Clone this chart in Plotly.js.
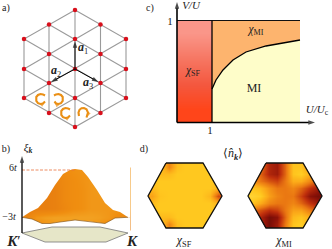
<!DOCTYPE html>
<html><head><meta charset="utf-8"><script src="https://cdn.plot.ly/plotly-3.0.0.min.js"></script>
<style>html,body{margin:0;padding:0;background:#fff}#p{width:332px;height:249px}</style></head><body><div id="p"></div>
<script>
// a) lattice
const siteX=[75,49,100.5,24,75,126,49,100.5,24,75,126,49,100.5,24,75,126,49,100.5,75];
const siteY=[10,24.5,24.5,39,39,39,54,54,69,69,69,83,83,98,98,98,113,113,127];
const bondX=[75,126,126,75,24,24,75,null,49,49,null,75,75,null,100.5,100.5,null,24,126,null,24,100.5,null,49,126,null,126,24,null,126,49,null,100.5,24];
const bondY=[10,39,98,127,98,39,10,null,24.5,113,null,10,127,null,24.5,113,null,39,98,null,69,113,null,24.5,69,null,39,98,null,69,113,null,24.5,69];
const swirlX=[[45,43,40.5,38,36.3,36.3,38,40.5,43,45],[54,56,58.5,61,62.7,62.7,61,58.5,56,54.5],[70,68,65.5,63,61.3,61.3,63,65.5,68,70],[79,78.5,79.5,81.5,84,86.5,88,87.5,86.5]];
const swirlY=[[95.5,94.4,94,95,97,101,103.2,104,103.5,101.5],[95.5,94.4,94,95,97,101,103.2,104,103.5,101.5],[109.5,108.4,108,109,111,115,117.2,118,117.5,115.5],[116,112.5,109.8,108.2,108,109.2,112.5,115.5,117.5]];
// c) phase diagram
const sfX=[185.75,203.25], sfY=[33,58.5,84,109.5];
const sfZ=[[0.05,0.05],[0.4,0.4],[0.7,0.7],[1,1]];
const orangeX=[212,300,300,283,266,246,233,223,216,212,212];
const orangeY=[21,21,40,43,46,52,60,70,80,89,21];
const boundaryX=[212,216,223,233,246,266,283,300];
const boundaryY=[89,80,70,60,52,46,43,40];
const creamX=[212,216,223,233,246,266,283,300,300,212];
const creamY=[89,80,70,60,52,46,43,40,122,122];
// b) dispersion
const bandX=[27,36,45,54,63,72,81,90,99,108,117,126];
const bandY=[172,181,190,199,208,217,226];
const bandZ=[
[.58,.58,.58,.58,.62,.66,.68,.68,.68,.68,.68,.68],
[.52,.52,.52,.54,.60,.64,.67,.70,.70,.70,.70,.70],
[.50,.50,.50,.52,.60,.64,.66,.70,.72,.72,.72,.72],
[.50,.50,.50,.52,.60,.64,.66,.70,.70,.70,.70,.70],
[.50,.50,.50,.52,.58,.64,.66,.70,.70,.70,.70,.70],
[.58,.70,.74,.76,.76,.76,.76,.76,.74,.70,.62,.56],
[.50,.60,.66,.70,.72,.72,.72,.70,.66,.60,.55,.50]];
const domeTopX=[22,30,38,47,55,63,70,75,82,88,97,105,113,120,128];
const domeTopY=[217.3,212,208,198,185,174,170,169,170,177,190,203,210,212,217.3];
const domeBottomX=[128,115,105,90,75,60,50,42,32,22];
const domeBottomY=[217.3,218,223.5,221.5,220,222,223.5,223.5,219,217.3];
const baseX=[22,52,100,128,106,45,22];
const baseY=[233,227,227,233,242,242,233];
// d) momentum distribution
const sfHexX=[152.1,160.3,168.6,176.8,185,193.2,201.4,209.7,217.9];
const mottHexX=[252.1,260.3,268.6,276.8,285,293.2,301.4,309.7,317.9];
const hexY=[166.6,173.8,181,188.2,195.5,202.8,210,217.2,224.4];
const sfHexZ=[
[.82,.82,.55,.78,.82,.82,.82,.82,.82],
[.82,.76,.76,.82,.82,.82,.82,.82,.82],
[.8,.82,.82,.82,.82,.82,.82,.82,.8],
[.76,.82,.82,.82,.82,.82,.82,.82,.72],
[.66,.8,.82,.82,.82,.82,.82,.74,.38],
[.76,.82,.82,.82,.82,.82,.82,.82,.72],
[.8,.82,.82,.82,.82,.82,.82,.82,.8],
[.82,.76,.76,.82,.82,.82,.82,.82,.82],
[.82,.82,.55,.78,.82,.82,.82,.82,.82]];
const mottHexZ=[
[.5,.5,.25,.2,.45,.8,.8,.6,.6],
[.5,.45,.25,.2,.45,.8,.85,.7,.6],
[.6,.5,.4,.35,.5,.7,.7,.55,.4],
[.8,.75,.6,.5,.5,.55,.45,.3,.2],
[.9,.85,.65,.55,.5,.5,.35,.15,.1],
[.8,.7,.55,.5,.5,.55,.45,.3,.2],
[.5,.4,.3,.35,.5,.65,.65,.5,.4],
[.4,.25,.1,.15,.45,.75,.8,.7,.6],
[.4,.25,.1,.2,.5,.8,.85,.7,.6]];
const hexCornerX=[166,203,222,203,166,148,166];
const hexCornerY=[163,163,196,228,228,196,163];
const hexOffset=100;
// text
const labelText=['a)','c)','b)','d)','<b><i>a</i></b><sub>1</sub>','<b><i>a</i></b><sub>2</sub>','<b><i>a</i></b><sub>3</sub>',
 '<i>V/U</i>','1','<i>U/U</i><sub>c</sub>','1','<i>χ</i><sub>MI</sub>','<i>χ</i><sub>SF</sub>','MI',
 '<i>ξ<sub><b>k</b></sub></i>','6<i>t</i>','−3<i>t</i>','⟨<i>n̂<sub><b>k</b></sub></i>⟩','<i>χ</i><sub>SF</sub>','<i>χ</i><sub>MI</sub>',
 '<b><i>K</i></b>′','<b><i>K</i></b>'];
const labelX=[6,150,6,144,83,56,88,191,170,317,210,256,193,254,28,13,9,233,184,284,14,132];
const labelY=[8,8,149,149,48,71,83,6,22,110,131,30,71,89,148,168,217,154,241,241,242,242];
const labelSize=[10,10,10,10,12,12,12,11,11,11,11,11.5,11.5,12,11,10,10,12,12,12,15,15];
// arrows: start, end
const arrowStartX=[75,75,75,177,177,22], arrowStartY=[69,69,69,122.5,122.5,233];
const arrowEndX=[75,51,98.5,177,315,22], arrowEndY=[41,82,82,2,122.5,156];
const arrowW=[1,1,1,1.6,1.6,1.3];

const hot=[[0,'#4a0805'],[.15,'#8c1208'],[.3,'#c0300c'],[.5,'#ea7812'],[.68,'#fba818'],[.82,'#ffc81f'],[1,'#ffe04a']];
const pink=[[0,'#fb9a8e'],[.4,'#f67763'],[.7,'#f4583f'],[1,'#ff451a']];
const bandScale=[[0,'#b85808'],[.5,'#e87f10'],[.65,'#f08e10'],[.75,'#f2a020'],[.85,'#f8a838'],[1,'#ffc060']];
function poly(x,y,color,line,w){return {type:'scatter',mode:line?'lines':'none',x,y,fill:'toself',fillcolor:color,line:{color:line||color,width:w||0},hoverinfo:'skip'};}
function path(x,y,color,w,dash){return {type:'scatter',mode:'lines',x,y,line:{color,width:w,dash:dash||'solid'},hoverinfo:'skip',connectgaps:false};}
function hm(x,y,z,cs){return {type:'heatmap',x,y,z,zmin:0,zmax:1,colorscale:cs,showscale:false,zsmooth:'best',hoverinfo:'skip'};}
function arrowLine(x,y,color,w,size){
 return {type:'scatter',mode:'lines+markers',x,y,line:{color,width:w},hoverinfo:'skip',
  marker:{symbol:x.map((v,i)=>i===x.length-1?'arrow':'circle'),size:x.map((v,i)=>i===x.length-1?size:0),angleref:'previous',color,line:{width:0}}};
}
const data=[];
data.push(hm(sfX,sfY,sfZ,pink));
data.push(hm(bandX,bandY,bandZ,bandScale));
data.push(hm(sfHexX,hexY,sfHexZ,hot));
data.push(hm(mottHexX,hexY,mottHexZ,hot));
// masks shaping the painted areas
data.push(poly([20].concat(domeTopX,[130,130,20]),[217.3].concat(domeTopY,[217.3,165,165]),'#fff'));
data.push(poly([20].concat(domeBottomX.slice().reverse(),[130,130,20]),[217.3].concat(domeBottomY.slice().reverse(),[217.3,232,232]),'#fff'));
[0,hexOffset].forEach(d=>{
 const c=(a)=>a.map(v=>v+d);
 data.push(poly(c([147,166,148,147]),[162,162,196,196],'#fff'));
 data.push(poly(c([147,148,166,147]),[196,196,229,229],'#fff'));
 data.push(poly(c([203,223,223,222]),[162,162,196,196],'#fff'));
 data.push(poly(c([222,223,223,203]),[196,196,229,229],'#fff'));
});
// a)
data.push(path(bondX,bondY,'#9a9a9a',1.1));
swirlX.forEach((x,i)=>data.push(arrowLine(x,swirlY[i],'#ea8f14',2.1,6)));
data.push({type:'scatter',mode:'markers',x:siteX,y:siteY,marker:{color:'#d8101c',size:4.5},hoverinfo:'skip'});
// c)
data.push(poly(creamX,creamY,'#fefdc9'));
data.push(poly(orangeX,orangeY,'#fdb46e'));
data.push(path(boundaryX,boundaryY,'#000',1.3));
data.push(path([177,300],[20.5,20.5],'#111',1.2));
data.push(path([212,212],[20.5,122],'#000',1.3));
// b)
data.push(path(domeBottomX,domeBottomY,'#8a5a20',0.7));
data.push(poly(baseX,baseY,'#e6e6c8','#777',0.8));
data.push(path([22,75],[170,170],'#e8703a',0.8,'3px,1.5px'));
// d)
data.push(path(hexCornerX,hexCornerY,'#111',1.3));
data.push(path(hexCornerX.map(v=>v+hexOffset),hexCornerY,'#111',1.3));
arrowEndX.forEach((x,i)=>data.push(arrowLine([arrowStartX[i],x],[arrowStartY[i],arrowEndY[i]],'#000',arrowW[i],7)));
data.push({type:'scatter',mode:'text',x:labelX,y:labelY,text:labelText,textposition:'middle center',cliponaxis:false,
 textfont:{family:'Liberation Serif',size:labelSize,color:'#222'},hoverinfo:'skip'});
Plotly.newPlot('p',data,{width:332,height:249,margin:{l:0,r:0,t:0,b:0},paper_bgcolor:'#fff',plot_bgcolor:'#fff',showlegend:false,
 xaxis:{range:[0,332],visible:false,fixedrange:true},yaxis:{range:[249,0],visible:false,fixedrange:true}},{displayModeBar:false,staticPlot:true});
</script></body></html>
